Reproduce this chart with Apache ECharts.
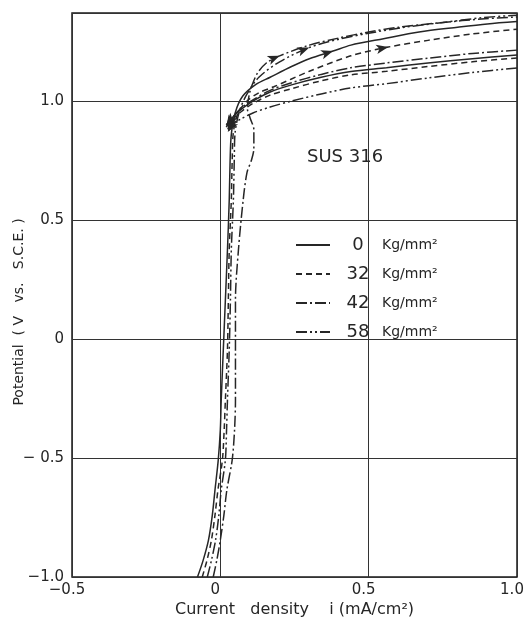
<!DOCTYPE html>
<html>
<head>
<meta charset="utf-8">
<script src="https://cdn.jsdelivr.net/npm/echarts@6/dist/echarts.min.js"></script>
<style>
  html, body { margin: 0; padding: 0; background: #fff; }
  #chart { width: 526px; height: 623px; }
</style>
</head>
<body>
<div id="chart"></div>
<script>
// Anodic polarization loops of SUS 316 under applied stress.
// Each loop: rising sweep (passive region + forward branch) and falling (reverse) branch.
const pressures = ['0', '32', '42', '58'];

const rise0 = [[-0.077,-1.0],[-0.058,-0.93],[-0.040,-0.845],[-0.027,-0.74],[-0.018,-0.634],[-0.007,-0.508],[0.0,-0.38],[0.003,-0.256],[0.010,-0.046],[0.017,0.164],[0.024,0.374],[0.030,0.584],[0.033,0.752],[0.037,0.86],[0.050,0.95],[0.075,1.02],[0.12,1.07],[0.168,1.10],[0.24,1.145],[0.30,1.178],[0.38,1.21],[0.44,1.235],[0.55,1.262],[0.67,1.29],[0.80,1.31],[0.90,1.324],[1.0,1.334]];
const fall0 = [[1.0,1.193],[0.85,1.178],[0.70,1.16],[0.56,1.14],[0.44,1.124],[0.34,1.10],[0.24,1.068],[0.168,1.038],[0.11,1.0],[0.07,0.965],[0.04,0.93],[0.02,0.89]];

const rise32 = [[-0.061,-1.0],[-0.045,-0.93],[-0.030,-0.845],[-0.018,-0.74],[-0.008,-0.634],[0.007,-0.508],[0.013,-0.38],[0.017,-0.256],[0.024,-0.046],[0.027,0.164],[0.030,0.374],[0.037,0.584],[0.040,0.752],[0.044,0.87],[0.06,0.95],[0.09,1.0],[0.13,1.035],[0.18,1.06],[0.30,1.125],[0.44,1.19],[0.566,1.227],[0.70,1.255],[0.85,1.282],[1.0,1.302]];
const fall32 = [[1.0,1.181],[0.85,1.165],[0.70,1.145],[0.56,1.125],[0.44,1.11],[0.34,1.085],[0.24,1.052],[0.168,1.025],[0.11,0.99],[0.07,0.955],[0.04,0.92],[0.025,0.88]];

const rise42 = [[-0.024,-1.0],[-0.012,-0.93],[0.0,-0.845],[0.012,-0.74],[0.022,-0.634],[0.040,-0.508],[0.048,-0.38],[0.051,-0.256],[0.051,-0.046],[0.051,0.164],[0.061,0.374],[0.077,0.584],[0.09,0.70],[0.105,0.752],[0.113,0.80],[0.113,0.88],[0.10,0.93],[0.091,0.97],[0.098,1.03],[0.108,1.07],[0.125,1.117],[0.155,1.16],[0.20,1.19],[0.30,1.235],[0.40,1.265],[0.50,1.29],[0.60,1.31],[0.75,1.33],[0.88,1.345],[1.0,1.353]];
const fall42 = [[1.0,1.214],[0.85,1.20],[0.70,1.18],[0.56,1.16],[0.44,1.14],[0.34,1.112],[0.24,1.077],[0.168,1.045],[0.11,1.005],[0.07,0.97],[0.04,0.93],[0.02,0.9]];

const rise58 = [[-0.044,-1.0],[-0.03,-0.93],[-0.016,-0.845],[-0.005,-0.74],[0.003,-0.634],[0.017,-0.508],[0.021,-0.38],[0.024,-0.256],[0.030,-0.046],[0.034,0.164],[0.037,0.374],[0.044,0.584],[0.047,0.752],[0.05,0.87],[0.065,0.96],[0.09,1.03],[0.13,1.10],[0.20,1.165],[0.30,1.225],[0.40,1.26],[0.50,1.285],[0.62,1.31],[0.75,1.33],[0.88,1.35],[1.0,1.361]];
const fall58 = [[1.0,1.139],[0.85,1.12],[0.70,1.097],[0.56,1.073],[0.44,1.055],[0.34,1.03],[0.24,1.0],[0.168,0.975],[0.11,0.95],[0.07,0.925],[0.04,0.9],[0.025,0.87]];

const rises = [rise0, rise32, rise42, rise58];
const falls = [fall0, fall32, fall42, fall58];
// x positions of the direction arrows on the rising sweeps
const riseArrowX = [[0.38], [0.566], [0.20], [0.30]];

const xTicks = [-0.5, 0, 0.5, 1.0];
const xTickLabels = ['−0.5', '0', '0.5', '1.0'];
const yTicks = [-1.0, -0.5, 0, 0.5, 1.0];
const yTickLabels = ['−1.0', '− 0.5', '0', '0.5', '1.0'];

const ink = '#262626';
const dashes = ['solid', [6, 4], [11, 3, 2, 3], [11, 3, 2, 3, 2, 3]];
const FONT = 'DejaVu Sans';

const chart = echarts.init(document.getElementById('chart'));

function tickFmt(ticks, labels) {
  return function (v) {
    for (let i = 0; i < ticks.length; i++) {
      if (Math.abs(ticks[i] - v) < 1e-6) return labels[i];
    }
    return '';
  };
}

function arrowAngle(points, i) {
  const a = chart.convertToPixel({ gridIndex: 0 }, points[Math.max(i - 1, 0)]);
  const b = chart.convertToPixel({ gridIndex: 0 }, points[Math.min(i + 1, points.length - 1)]);
  const ang = Math.atan2(-(b[1] - a[1]), b[0] - a[0]) * 180 / Math.PI;
  return ang - 90;
}

function buildData(points, arrowIdx, withAngles) {
  return points.map(function (p, i) {
    if (arrowIdx.indexOf(i) >= 0) {
      return {
        value: p,
        symbol: 'arrow',
        symbolSize: [7, 12],
        symbolRotate: withAngles ? arrowAngle(points, i) : 0
      };
    }
    return { value: p };
  });
}

function makeSeries(withAngles) {
  const out = [];
  pressures.forEach(function (name, k) {
    const riseIdx = [];
    rises[k].forEach(function (p, i) { if (riseArrowX[k].indexOf(p[0]) >= 0) riseIdx.push(i); });
    const fallIdx = [falls[k].length - 1];
    [[rises[k], riseIdx], [falls[k], fallIdx]].forEach(function (pair) {
      out.push({
        name: name,
        type: 'line',
        data: buildData(pair[0], pair[1], withAngles),
        symbol: 'none',
        showSymbol: true,
        smooth: 0.3,
        clip: true,
        lineStyle: { color: ink, width: 1.5, type: dashes[k] },
        itemStyle: { color: ink },
        emphasis: { disabled: true },
        animation: false
      });
    });
  });
  return out;
}

const option = {
  animation: false,
  backgroundColor: '#ffffff',
  grid: {
    left: 72, right: 9, top: 13, bottom: 46,
    outerBoundsMode: 'none',
    containLabel: false,
    show: true, borderColor: '#1a1a1a', borderWidth: 1.5
  },
  xAxis: {
    type: 'value', min: -0.5, max: 1.0, interval: 0.5,
    name: 'Current   density    i (mA/cm²)',
    nameLocation: 'middle', nameGap: 25, nameMoveOverlap: false,
    nameTextStyle: { fontFamily: FONT, fontSize: 16, color: ink },
    axisLine: { show: false },
    axisTick: { show: false },
    axisLabel: { fontFamily: FONT, fontSize: 15, color: ink, margin: 6, padding: [0, 10, 0, 0], formatter: tickFmt(xTicks, xTickLabels) },
    splitLine: { show: true, lineStyle: { color: '#333', width: 1 } }
  },
  yAxis: {
    type: 'value', min: -1.0, max: 1.37, interval: 0.5,
    name: 'Potential  ( V   vs.   S.C.E. )',
    nameLocation: 'middle', nameGap: 46, nameRotate: 90, nameMoveOverlap: false,
    nameTextStyle: { fontFamily: FONT, fontSize: 14, color: ink, padding: [0, 34, 0, 0] },
    axisLine: { show: false },
    axisTick: { show: false },
    axisLabel: { fontFamily: FONT, fontSize: 15, color: ink, margin: 8, showMaxLabel: false, formatter: tickFmt(yTicks, yTickLabels) },
    splitLine: { show: true, lineStyle: { color: '#333', width: 1 } }
  },
  legend: {
    orient: 'vertical',
    left: 290, top: 231,
    itemWidth: 34, itemHeight: 14, itemGap: 11,
    selectedMode: false,
    data: pressures,
    itemStyle: { opacity: 0 },
    formatter: function (name) { return '{n|' + name + '}{u|Kg/mm²}'; },
    textStyle: {
      color: ink,
      rich: {
        n: { fontFamily: FONT, fontSize: 18, width: 46, align: 'right', color: ink },
        u: { fontFamily: FONT, fontSize: 14, padding: [0, 0, 0, 1], color: ink }
      }
    }
  },
  graphic: [{
    type: 'text', left: 307, top: 148,
    style: { text: 'SUS 316', fontFamily: FONT, fontSize: 18, fill: ink }
  }],
  series: makeSeries(false)
};

chart.setOption(option);
// second pass: orient the direction arrows along the drawn curves
chart.setOption({ series: makeSeries(true) });
</script>
</body>
</html>
